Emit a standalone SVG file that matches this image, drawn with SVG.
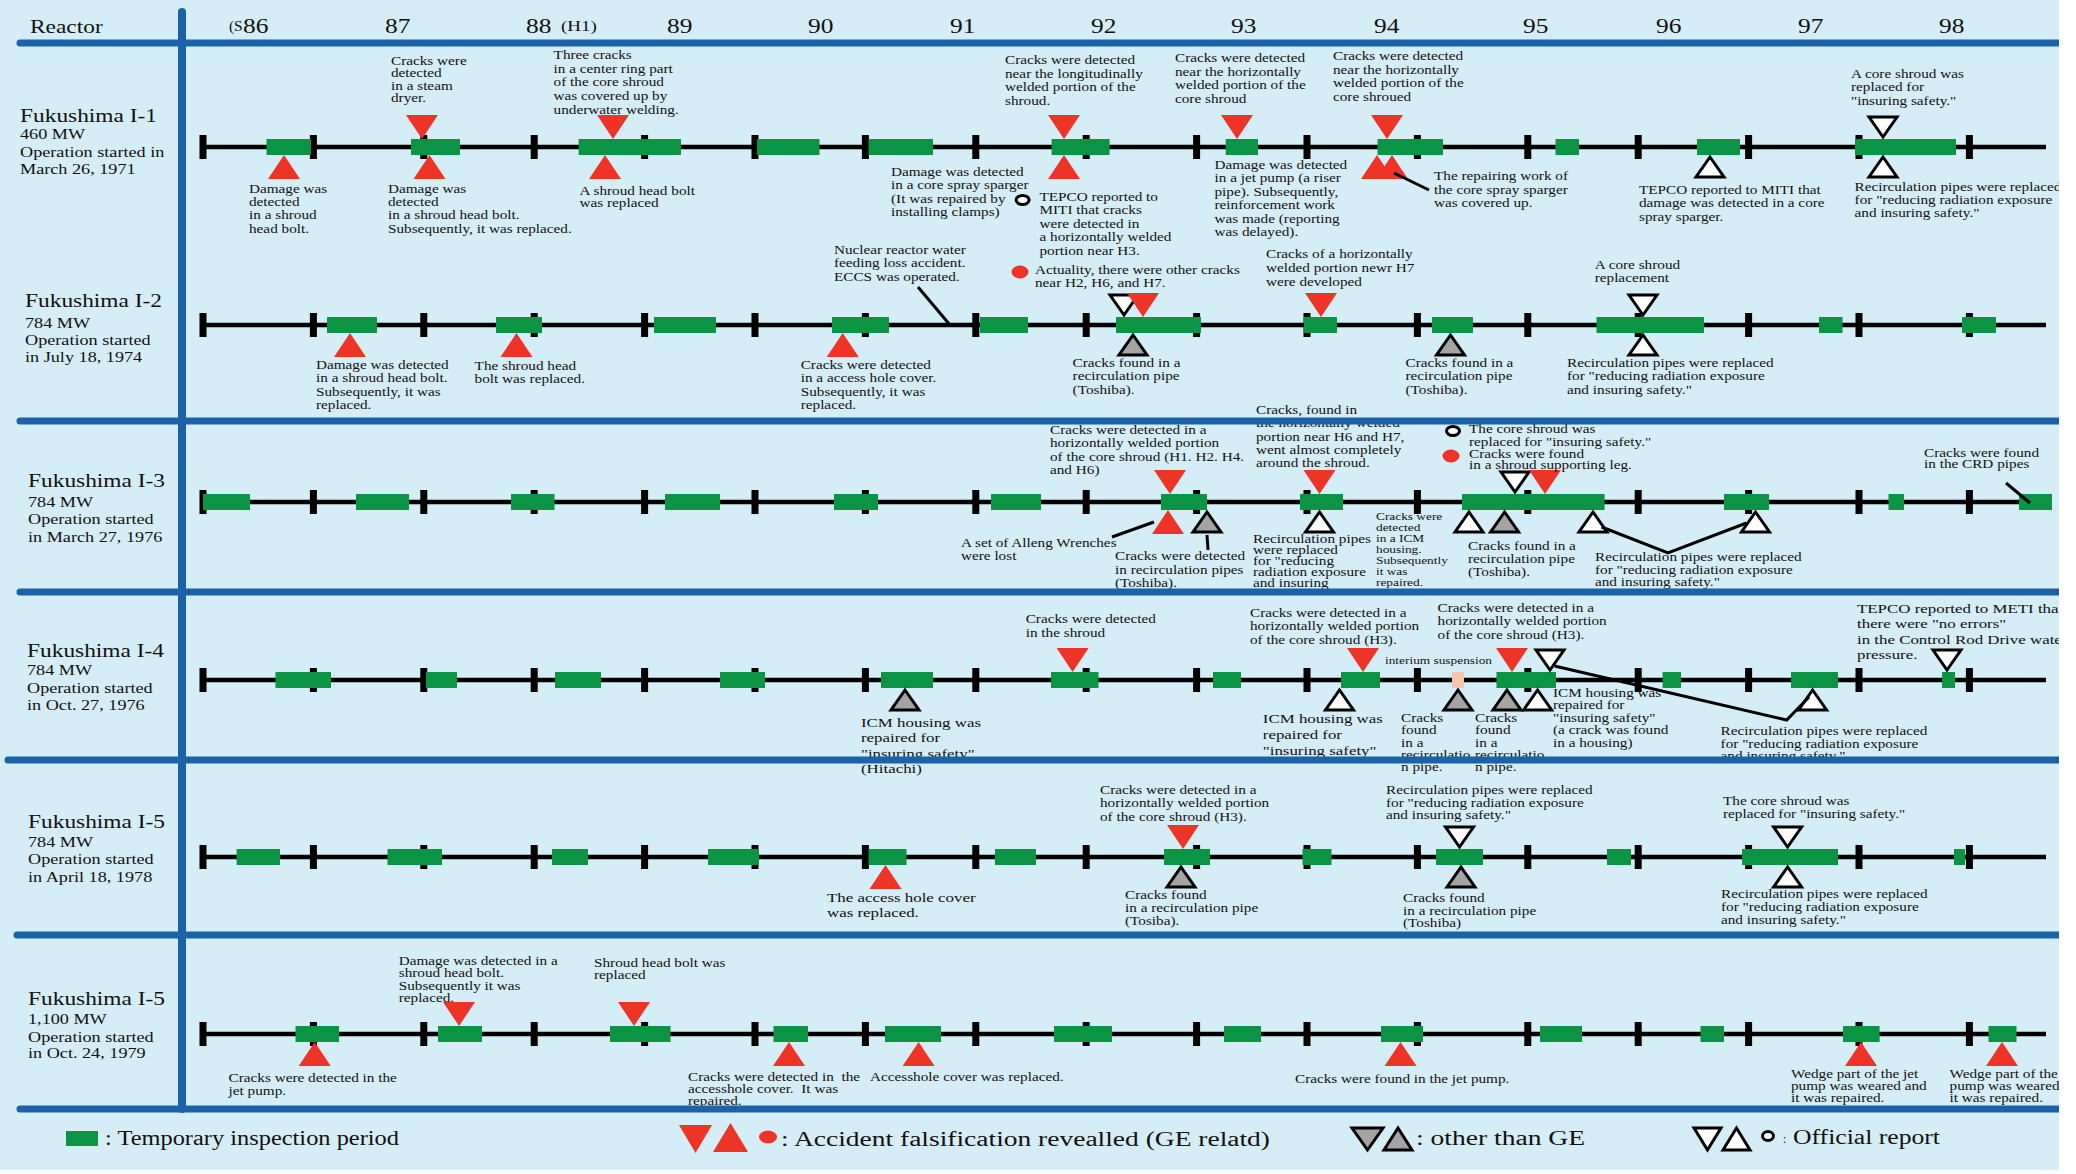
<svg xmlns="http://www.w3.org/2000/svg" xmlns:xlink="http://www.w3.org/1999/xlink" width="2076" height="1174" viewBox="0 0 2076 1174">
<style>
.bl{stroke:#1b62a9;stroke-width:7;stroke-linecap:round;fill:none}
.tl{stroke:#000;stroke-width:4.5;fill:none}
.tk{stroke:#000;stroke-width:7;fill:none}
.g{fill:#0b9444}
.r{fill:#ee3426}
.gy{fill:#a4a4a4;stroke:#000;stroke-width:3}
.o{fill:#fff;stroke:#000;stroke-width:3}
.ld{stroke:#000;stroke-width:3;fill:none}
text{font-family:"Liberation Serif","Times New Roman",serif;fill:#111}
.t{font-size:12px}
.tb{font-size:13.3px}
.ts{font-size:10.5px}
.n{font-size:18px}
.s{font-size:14px}
.y{font-size:20px}
.lg{font-size:20px}
</style>
<defs>
<path id="rd" d="M-16 -32H16L0 -8Z"/>
<path id="ru" d="M-16 32H16L0 8Z"/>
<path id="od" d="M-14 -30H14L0 -10Z"/>
<path id="ou" d="M-14 30H14L0 10Z"/>
<path id="ticks" class="tk" d="M203 -12v24m110.4 -24v24m110.4 -24v24m110.4 -24v24m110.4 -24v24m110.4 -24v24m110.4 -24v24m110.4 -24v24m110.4 -24v24m110.4 -24v24m110.4 -24v24m110.4 -24v24m110.4 -24v24m110.4 -24v24m110.4 -24v24m110.4 -24v24m110.4 -24v24"/>
</defs>
<rect x="0" y="0" width="2076" height="1174" fill="#fff"/>
<rect x="0" y="0" width="2059" height="1170" fill="#d5edf6"/>

<g id="header">
<text class="n" transform="translate(30 33) scale(1.3 1)">Reactor</text>
<text style="font-size:14px" transform="translate(229 31) scale(1.1 1)">(S</text>
<text class="y" transform="translate(243 33) scale(1.27 1)">86</text>
<text class="y" transform="translate(385 33) scale(1.27 1)">87</text>
<text class="y" transform="translate(526 33) scale(1.27 1)">88</text>
<text style="font-size:15px" transform="translate(561 31) scale(1.27 1)">(H1)</text>
<text class="y" transform="translate(667 33) scale(1.27 1)">89</text>
<text class="y" transform="translate(808 33) scale(1.27 1)">90</text>
<text class="y" transform="translate(950 33) scale(1.27 1)">91</text>
<text class="y" transform="translate(1091 33) scale(1.27 1)">92</text>
<text class="y" transform="translate(1231 33) scale(1.27 1)">93</text>
<text class="y" transform="translate(1374 33) scale(1.27 1)">94</text>
<text class="y" transform="translate(1523 33) scale(1.27 1)">95</text>
<text class="y" transform="translate(1656 33) scale(1.27 1)">96</text>
<text class="y" transform="translate(1798 33) scale(1.27 1)">97</text>
<text class="y" transform="translate(1939 33) scale(1.27 1)">98</text>
</g>

<!-- Row 1 -->
<g id="reactor-I-1">
<text transform="translate(20 122) scale(1.3 1)"><tspan class="n" x="0">Fukushima I-1</tspan><tspan class="s" x="0" dy="17">460 MW</tspan><tspan class="s" x="0" dy="18">Operation started in</tspan><tspan class="s" x="0" dy="17">March 26, 1971</tspan></text>
<path class="tl" d="M203 147H2046"/>
<use href="#ticks" y="147"/>
<g class="g" transform="translate(0 139)">
<rect x="266.5" width="44.5" height="16"/><rect x="411" width="49" height="16"/><rect x="578.6" width="102.4" height="16"/><rect x="757" width="62.5" height="16"/><rect x="868.6" width="64.4" height="16"/><rect x="1051.6" width="58" height="16"/><rect x="1225.7" width="32.3" height="16"/><rect x="1377.5" width="65.5" height="16"/><rect x="1555.5" width="23.5" height="16"/><rect x="1697" width="43" height="16"/><rect x="1855" width="101" height="16"/>
</g>
<g class="r">
<use href="#rd" x="422" y="147"/><use href="#rd" x="613" y="147"/><use href="#rd" x="1064" y="147"/><use href="#rd" x="1237" y="147"/><use href="#rd" x="1387" y="147"/>
<use href="#ru" x="284" y="147"/><use href="#ru" x="429.5" y="147"/><use href="#ru" x="605" y="147"/><use href="#ru" x="1064" y="147"/><use href="#ru" x="1377" y="147"/><use href="#ru" x="1392" y="147"/>
<ellipse cx="1020" cy="272" rx="8.5" ry="6.5"/>
</g>
<g class="o">
<use href="#ou" x="1710" y="147"/><use href="#od" x="1883" y="147"/><use href="#ou" x="1883" y="147"/>
<ellipse cx="1022.6" cy="200" rx="6.5" ry="4.5"/>
</g>
<text class="t" transform="translate(249 193) scale(1.27 1)"><tspan x="0">Damage was</tspan><tspan x="0" dy="13.2">detected</tspan><tspan x="0" dy="13.2">in a shroud</tspan><tspan x="0" dy="13.2">head bolt.</tspan></text>
<text class="t" transform="translate(391 65) scale(1.27 1)"><tspan x="0">Cracks were</tspan><tspan x="0" dy="12.5">detected</tspan><tspan x="0" dy="12.5">in a steam</tspan><tspan x="0" dy="12.5">dryer.</tspan></text>
<text class="t" transform="translate(388 193) scale(1.27 1)"><tspan x="0">Damage was</tspan><tspan x="0" dy="13.2">detected</tspan><tspan x="0" dy="13.2">in a shroud head bolt.</tspan><tspan x="0" dy="13.2">Subsequently, it was replaced.</tspan></text>
<text class="t" transform="translate(553.6 59) scale(1.27 1)"><tspan x="0">Three cracks</tspan><tspan x="0" dy="13.7">in a center ring part</tspan><tspan x="0" dy="13.7">of the core shroud</tspan><tspan x="0" dy="13.7">was covered up by</tspan><tspan x="0" dy="13.7">underwater welding.</tspan></text>
<text class="t" transform="translate(579.5 195) scale(1.27 1)"><tspan x="0">A shroud head bolt</tspan><tspan x="0" dy="12.5">was replaced</tspan></text>
<text class="t" transform="translate(891 176) scale(1.27 1)"><tspan x="0">Damage was detected</tspan><tspan x="0" dy="13.3">in a core spray sparger</tspan><tspan x="0" dy="13.3">(It was repaired by</tspan><tspan x="0" dy="13.3">installing clamps)</tspan></text>
<text class="t" transform="translate(1005 64) scale(1.27 1)"><tspan x="0">Cracks were detected</tspan><tspan x="0" dy="13.6">near the longitudinally</tspan><tspan x="0" dy="13.6">welded portion of the</tspan><tspan x="0" dy="13.6">shroud.</tspan></text>
<text class="t" transform="translate(1039.5 201) scale(1.27 1)"><tspan x="0">TEPCO reported to</tspan><tspan x="0" dy="13.5">MITI that cracks</tspan><tspan x="0" dy="13.5">were detected in</tspan><tspan x="0" dy="13.5">a horizontally welded</tspan><tspan x="0" dy="13.5">portion near H3.</tspan></text>
<text class="t" transform="translate(1035 274) scale(1.27 1)"><tspan x="0">Actuality, there were other cracks</tspan><tspan x="0" dy="13.3">near H2, H6, and H7.</tspan></text>
<text class="t" transform="translate(1175 62) scale(1.27 1)"><tspan x="0">Cracks were detected</tspan><tspan x="0" dy="13.6">near the horizontally</tspan><tspan x="0" dy="13.6">welded portion of the</tspan><tspan x="0" dy="13.6">core shroud</tspan></text>
<text class="t" transform="translate(1214.5 169) scale(1.27 1)"><tspan x="0">Damage was detected</tspan><tspan x="0" dy="13.5">in a jet pump (a riser</tspan><tspan x="0" dy="13.5">pipe).  Subsequently,</tspan><tspan x="0" dy="13.5">reinforcement work</tspan><tspan x="0" dy="13.5">was made (reporting</tspan><tspan x="0" dy="13.5">was delayed).</tspan></text>
<text class="t" transform="translate(1333 60) scale(1.27 1)"><tspan x="0">Cracks were detected</tspan><tspan x="0" dy="13.6">near the horizontally</tspan><tspan x="0" dy="13.6">welded portion of the</tspan><tspan x="0" dy="13.6">core shroued</tspan></text>
<text class="t" transform="translate(1434 180) scale(1.27 1)"><tspan x="0">The repairing work of</tspan><tspan x="0" dy="13.6">the core spray sparger</tspan><tspan x="0" dy="13.6">was covered up.</tspan></text>
<text class="t" transform="translate(1639 194) scale(1.27 1)"><tspan x="0">TEPCO reported to MITI that</tspan><tspan x="0" dy="13.4">damage was detected in a core</tspan><tspan x="0" dy="13.4">spray sparger.</tspan></text>
<text class="t" transform="translate(1851 78) scale(1.27 1)"><tspan x="0">A core shroud was</tspan><tspan x="0" dy="13.4">replaced for</tspan><tspan x="0" dy="13.4">"insuring safety."</tspan></text>
<text class="t" transform="translate(1854.6 191) scale(1.27 1)"><tspan x="0">Recirculation pipes were replaced</tspan><tspan x="0" dy="13.2">for "reducing radiation exposure</tspan><tspan x="0" dy="13.2">and insuring safety."</tspan></text>
</g>

<!-- Row 2 -->
<g id="reactor-I-2">
<text transform="translate(25 307) scale(1.3 1)"><tspan class="n" x="0">Fukushima I-2</tspan><tspan class="s" x="0" dy="21">784 MW</tspan><tspan class="s" x="0" dy="17">Operation started</tspan><tspan class="s" x="0" dy="17">in July 18, 1974</tspan></text>
<path class="tl" d="M203 325H2046"/>
<use href="#ticks" y="325"/>
<g class="g" transform="translate(0 317)">
<rect x="327" width="50" height="16"/><rect x="496" width="46" height="16"/><rect x="654" width="62" height="16"/><rect x="832" width="57" height="16"/><rect x="980" width="48" height="16"/><rect x="1116" width="85" height="16"/><rect x="1304" width="33" height="16"/><rect x="1432" width="41" height="16"/><rect x="1596.5" width="107.5" height="16"/><rect x="1819" width="23.5" height="16"/><rect x="1962" width="34" height="16"/>
</g>
<g class="o"><use href="#od" x="1124" y="325"/><use href="#od" x="1643" y="325"/><use href="#ou" x="1643" y="325"/></g>
<g class="gy"><use href="#ou" x="1133" y="325"/><use href="#ou" x="1450.5" y="325"/></g>
<g class="r"><use href="#ru" x="350" y="325"/><use href="#ru" x="516.5" y="325"/><use href="#ru" x="842.7" y="325"/><use href="#rd" x="1143" y="325"/><use href="#rd" x="1321" y="325"/></g>
<text class="t" transform="translate(316 369) scale(1.27 1)"><tspan x="0">Damage was detected</tspan><tspan x="0" dy="13.4">in a shroud head bolt.</tspan><tspan x="0" dy="13.4">Subsequently, it was</tspan><tspan x="0" dy="13.4">replaced.</tspan></text>
<text class="t" transform="translate(474.6 370) scale(1.27 1)"><tspan x="0">The shroud head</tspan><tspan x="0" dy="13">bolt was replaced.</tspan></text>
<text class="t" transform="translate(800.7 369) scale(1.27 1)"><tspan x="0">Cracks were detected</tspan><tspan x="0" dy="13.4">in a access hole cover.</tspan><tspan x="0" dy="13.4">Subsequently, it was</tspan><tspan x="0" dy="13.4">replaced.</tspan></text>
<text class="t" transform="translate(834 254) scale(1.27 1)"><tspan x="0">Nuclear reactor water</tspan><tspan x="0" dy="13.5">feeding loss accident.</tspan><tspan x="0" dy="13.5">ECCS was operated.</tspan></text>
<text class="t" transform="translate(1072.6 367) scale(1.27 1)"><tspan x="0">Cracks found in a</tspan><tspan x="0" dy="13.4">recirculation pipe</tspan><tspan x="0" dy="13.4">(Toshiba).</tspan></text>
<text class="t" transform="translate(1266 258) scale(1.27 1)"><tspan x="0">Cracks of a horizontally</tspan><tspan x="0" dy="14">welded portion newr H7</tspan><tspan x="0" dy="14">were developed</tspan></text>
<text class="t" transform="translate(1405.5 367) scale(1.27 1)"><tspan x="0">Cracks found in a</tspan><tspan x="0" dy="13.4">recirculation pipe</tspan><tspan x="0" dy="13.4">(Toshiba).</tspan></text>
<text class="t" transform="translate(1594.7 269) scale(1.27 1)"><tspan x="0">A core shroud</tspan><tspan x="0" dy="13">replacement</tspan></text>
<text class="t" transform="translate(1567 367) scale(1.27 1)"><tspan x="0">Recirculation pipes were replaced</tspan><tspan x="0" dy="13.4">for "reducing radiation exposure</tspan><tspan x="0" dy="13.4">and insuring safety."</tspan></text>
</g>

<!-- Row 3 -->
<g id="reactor-I-3">
<text transform="translate(28 487) scale(1.3 1)"><tspan class="n" x="0">Fukushima I-3</tspan><tspan class="s" x="0" dy="20">784 MW</tspan><tspan class="s" x="0" dy="17">Operation started</tspan><tspan class="s" x="0" dy="18">in March 27, 1976</tspan></text>
<path class="tl" d="M203 502H2046"/>
<use href="#ticks" y="502"/>
<g class="g" transform="translate(0 494)">
<rect x="203" width="47" height="16"/><rect x="356" width="53" height="16"/><rect x="511" width="43.5" height="16"/><rect x="665" width="55" height="16"/><rect x="834" width="44" height="16"/><rect x="991" width="50" height="16"/><rect x="1161" width="46" height="16"/><rect x="1300" width="43" height="16"/><rect x="1462" width="142.6" height="16"/><rect x="1724" width="45" height="16"/><rect x="1888.5" width="15.5" height="16"/><rect x="2019" width="33" height="16"/>
</g>
<g class="o"><use href="#ou" x="1319.5" y="502"/><use href="#ou" x="1469" y="502"/><use href="#ou" x="1593" y="502"/><use href="#ou" x="1755.5" y="502"/><use href="#od" x="1515" y="502"/>
<ellipse cx="1453" cy="431" rx="6.5" ry="4.5"/></g>
<g class="gy"><use href="#ou" x="1207" y="502"/><use href="#ou" x="1504.6" y="502"/></g>
<g class="r"><use href="#rd" x="1170" y="502"/><use href="#ru" x="1168" y="502"/><use href="#rd" x="1319.5" y="502"/><use href="#rd" x="1545" y="502"/>
<ellipse cx="1451" cy="456" rx="8.5" ry="6.5"/></g>
<text class="t" transform="translate(1050 434) scale(1.27 1)"><tspan x="0">Cracks were detected in a</tspan><tspan x="0" dy="13.4">horizontally welded portion</tspan><tspan x="0" dy="13.4">of the core shroud (H1. H2. H4.</tspan><tspan x="0" dy="13.4">and H6)</tspan></text>
<text class="t" transform="translate(961 547) scale(1.27 1)"><tspan x="0">A set of Alleng Wrenches</tspan><tspan x="0" dy="12.7">were lost</tspan></text>
<text class="t" transform="translate(1115 560) scale(1.27 1)"><tspan x="0">Cracks were detected</tspan><tspan x="0" dy="13.7">in recirculation pipes</tspan><tspan x="0" dy="13.7">(Toshiba).</tspan></text>
<text class="t" transform="translate(1256 414) scale(1.27 1)"><tspan x="0">Cracks, found in</tspan><tspan x="0" dy="13.3">the horizontally welded</tspan><tspan x="0" dy="13.3">portion near H6 and H7,</tspan><tspan x="0" dy="13.3">went almost completely</tspan><tspan x="0" dy="13.3">around the shroud.</tspan></text>
<text class="t" transform="translate(1253 543) scale(1.27 1)"><tspan x="0">Recirculation pipes</tspan><tspan x="0" dy="11">were replaced</tspan><tspan x="0" dy="11">for "reducing</tspan><tspan x="0" dy="11">radiation exposure</tspan><tspan x="0" dy="11">and insuring</tspan></text>
<text class="ts" transform="translate(1376 520) scale(1.27 1)"><tspan x="0">Cracks were</tspan><tspan x="0" dy="11">detected</tspan><tspan x="0" dy="11">in a ICM</tspan><tspan x="0" dy="11">housing.</tspan><tspan x="0" dy="11">Subsequently</tspan><tspan x="0" dy="11">it was</tspan><tspan x="0" dy="11">repaired.</tspan></text>
<text class="t" transform="translate(1469 433) scale(1.27 1)"><tspan x="0">The core shroud was</tspan><tspan x="0" dy="12.7">replaced for "insuring safety."</tspan></text>
<text class="t" transform="translate(1469 458) scale(1.27 1)"><tspan x="0">Cracks were found</tspan><tspan x="0" dy="10.7">in a shroud supporting leg.</tspan></text>
<text class="t" transform="translate(1468 550) scale(1.27 1)"><tspan x="0">Cracks found in a</tspan><tspan x="0" dy="13">recirculation pipe</tspan><tspan x="0" dy="13">(Toshiba).</tspan></text>
<text class="t" transform="translate(1595 561) scale(1.27 1)"><tspan x="0">Recirculation pipes were replaced</tspan><tspan x="0" dy="12.7">for "reducing radiation exposure</tspan><tspan x="0" dy="12.7">and insuring safety."</tspan></text>
<text class="t" transform="translate(1924 457) scale(1.27 1)"><tspan x="0">Cracks were found</tspan><tspan x="0" dy="11">in the CRD pipes</tspan></text>
</g>

<!-- Row 4 -->
<g id="reactor-I-4">
<text transform="translate(27 657) scale(1.3 1)"><tspan class="n" x="0">Fukushima I-4</tspan><tspan class="s" x="0" dy="18">784 MW</tspan><tspan class="s" x="0" dy="18">Operation started</tspan><tspan class="s" x="0" dy="17">in Oct. 27, 1976</tspan></text>
<path class="tl" d="M203 680H2046"/>
<use href="#ticks" y="680"/>
<g class="g" transform="translate(0 672)">
<rect x="275.5" width="55.5" height="16"/><rect x="426" width="31" height="16"/><rect x="555" width="46" height="16"/><rect x="720" width="45" height="16"/><rect x="881" width="52" height="16"/><rect x="1051" width="47.5" height="16"/><rect x="1213" width="28" height="16"/><rect x="1341" width="39" height="16"/><rect x="1496.5" width="59.5" height="16"/><rect x="1662.6" width="18.4" height="16"/><rect x="1791" width="47" height="16"/><rect x="1942" width="13" height="16"/>
</g>
<rect x="1452" y="672" width="12" height="16" fill="#f6c6af"/>
<g class="gy"><use href="#ou" x="905" y="680"/><use href="#ou" x="1458" y="680"/><use href="#ou" x="1507" y="680"/></g>
<g class="o"><use href="#ou" x="1339.5" y="680"/><use href="#ou" x="1537.6" y="680"/><use href="#ou" x="1812.6" y="680"/><use href="#od" x="1550" y="680"/><use href="#od" x="1947" y="680"/></g>
<g class="r"><use href="#rd" x="1072.6" y="680"/><use href="#rd" x="1363" y="680"/><use href="#rd" x="1512" y="680"/></g>
<text class="tb" transform="translate(861 727) scale(1.27 1)"><tspan x="0">ICM housing was</tspan><tspan x="0" dy="15.5">repaired for</tspan><tspan x="0" dy="15.5">"insuring safety"</tspan><tspan x="0" dy="15.5">(Hitachi)</tspan></text>
<text class="t" transform="translate(1025.7 623) scale(1.27 1)"><tspan x="0">Cracks were detected</tspan><tspan x="0" dy="14">in the shroud</tspan></text>
<text class="tb" transform="translate(1262.8 723) scale(1.27 1)"><tspan x="0">ICM housing was</tspan><tspan x="0" dy="16">repaired for</tspan><tspan x="0" dy="16">"insuring safety"</tspan></text>
<text class="t" transform="translate(1250 617) scale(1.27 1)"><tspan x="0">Cracks were detected in a</tspan><tspan x="0" dy="13.3">horizontally welded portion</tspan><tspan x="0" dy="13.3">of the core shroud (H3).</tspan></text>
<text class="ts" transform="translate(1385 664) scale(1.27 1)">interium suspension</text>
<text class="t" transform="translate(1437.6 612) scale(1.27 1)"><tspan x="0">Cracks were detected in a</tspan><tspan x="0" dy="13.3">horizontally welded portion</tspan><tspan x="0" dy="13.3">of the core shroud (H3).</tspan></text>
<text class="t" transform="translate(1401 722) scale(1.27 1)"><tspan x="0">Cracks</tspan><tspan x="0" dy="12.3">found</tspan><tspan x="0" dy="12.3">in a</tspan><tspan x="0" dy="12.3">recirculatio</tspan><tspan x="0" dy="12.3">n pipe.</tspan></text>
<text class="t" transform="translate(1475 722) scale(1.27 1)"><tspan x="0">Cracks</tspan><tspan x="0" dy="12.3">found</tspan><tspan x="0" dy="12.3">in a</tspan><tspan x="0" dy="12.3">recirculatio</tspan><tspan x="0" dy="12.3">n pipe.</tspan></text>
<text class="t" transform="translate(1553 697) scale(1.27 1)"><tspan x="0">ICM housing was</tspan><tspan x="0" dy="12.5">repaired for</tspan><tspan x="0" dy="12.5">"insuring safety"</tspan><tspan x="0" dy="12.5">(a crack was found</tspan><tspan x="0" dy="12.5">in a housing)</tspan></text>
<text class="t" transform="translate(1720.6 735) scale(1.27 1)"><tspan x="0">Recirculation pipes were replaced</tspan><tspan x="0" dy="12.7">for "reducing radiation exposure</tspan><tspan x="0" dy="12.7">and insuring safety."</tspan></text>
<text class="tb" transform="translate(1857 613) scale(1.27 1)"><tspan x="0">TEPCO reported to METI that</tspan><tspan x="0" dy="15.5">there were "no errors"</tspan><tspan x="0" dy="15.5">in the Control Rod Drive water</tspan><tspan x="0" dy="15.5">pressure.</tspan></text>
</g>

<!-- Row 5 -->
<g id="reactor-I-5">
<text transform="translate(28 828) scale(1.3 1)"><tspan class="n" x="0">Fukushima I-5</tspan><tspan class="s" x="0" dy="19">784 MW</tspan><tspan class="s" x="0" dy="17">Operation started</tspan><tspan class="s" x="0" dy="18">in April 18, 1978</tspan></text>
<path class="tl" d="M203 857H2046"/>
<use href="#ticks" y="857"/>
<g class="g" transform="translate(0 849)">
<rect x="236.6" width="43.4" height="16"/><rect x="387.5" width="54.5" height="16"/><rect x="552" width="36" height="16"/><rect x="708" width="51" height="16"/><rect x="868.6" width="37.9" height="16"/><rect x="995" width="41" height="16"/><rect x="1164" width="46" height="16"/><rect x="1302.5" width="29" height="16"/><rect x="1436" width="47" height="16"/><rect x="1607" width="24" height="16"/><rect x="1742" width="96" height="16"/><rect x="1954" width="11" height="16"/>
</g>
<g class="gy"><use href="#ou" x="1181" y="857"/><use href="#ou" x="1461" y="857"/></g>
<g class="o"><use href="#od" x="1459.5" y="857"/><use href="#od" x="1787.6" y="857"/><use href="#ou" x="1787.6" y="857"/></g>
<g class="r"><use href="#ru" x="885.5" y="857"/><use href="#rd" x="1183" y="857"/></g>
<text class="tb" transform="translate(827 902) scale(1.27 1)"><tspan x="0">The access hole cover</tspan><tspan x="0" dy="15">was replaced.</tspan></text>
<text class="t" transform="translate(1100 794) scale(1.27 1)"><tspan x="0">Cracks were detected in a</tspan><tspan x="0" dy="13.4">horizontally welded portion</tspan><tspan x="0" dy="13.4">of the core shroud (H3).</tspan></text>
<text class="t" transform="translate(1125 899) scale(1.27 1)"><tspan x="0">Cracks found</tspan><tspan x="0" dy="13">in a recirculation pipe</tspan><tspan x="0" dy="13">(Tosiba).</tspan></text>
<text class="t" transform="translate(1386 794) scale(1.27 1)"><tspan x="0">Recirculation pipes were replaced</tspan><tspan x="0" dy="12.7">for "reducing radiation exposure</tspan><tspan x="0" dy="12.7">and insuring safety."</tspan></text>
<text class="t" transform="translate(1403 902) scale(1.27 1)"><tspan x="0">Cracks found</tspan><tspan x="0" dy="12.7">in a recirculation pipe</tspan><tspan x="0" dy="12.7">(Toshiba)</tspan></text>
<text class="t" transform="translate(1723 805) scale(1.27 1)"><tspan x="0">The core shroud was</tspan><tspan x="0" dy="12.7">replaced for "insuring safety."</tspan></text>
<text class="t" transform="translate(1721 898) scale(1.27 1)"><tspan x="0">Recirculation pipes were replaced</tspan><tspan x="0" dy="13">for "reducing radiation exposure</tspan><tspan x="0" dy="13">and insuring safety."</tspan></text>
</g>

<!-- Row 6 -->
<g id="reactor-I-5b">
<text transform="translate(28 1005) scale(1.3 1)"><tspan class="n" x="0">Fukushima I-5</tspan><tspan class="s" x="0" dy="19">1,100 MW</tspan><tspan class="s" x="0" dy="18">Operation started</tspan><tspan class="s" x="0" dy="16">in Oct. 24, 1979</tspan></text>
<path class="tl" d="M203 1034H2046"/>
<use href="#ticks" y="1034"/>
<g class="g" transform="translate(0 1026)">
<rect x="295.5" width="43.5" height="16"/><rect x="438" width="44" height="16"/><rect x="610" width="60.5" height="16"/><rect x="773.5" width="34.5" height="16"/><rect x="885" width="56" height="16"/><rect x="1054" width="58" height="16"/><rect x="1224" width="37" height="16"/><rect x="1381" width="42" height="16"/><rect x="1540" width="42" height="16"/><rect x="1700.5" width="23.5" height="16"/><rect x="1843" width="36.6" height="16"/><rect x="1988.5" width="28" height="16"/>
</g>
<g class="r"><use href="#ru" x="314.7" y="1034"/><use href="#ru" x="789" y="1034"/><use href="#ru" x="918.6" y="1034"/><use href="#ru" x="1400.5" y="1034"/><use href="#ru" x="1861" y="1034"/><use href="#ru" x="2002" y="1034"/><use href="#rd" x="459" y="1034"/><use href="#rd" x="634" y="1034"/></g>
<text class="t" transform="translate(228.6 1082) scale(1.27 1)"><tspan x="0">Cracks were detected in the</tspan><tspan x="0" dy="13.3">jet pump.</tspan></text>
<text class="t" transform="translate(398.7 965) scale(1.27 1)"><tspan x="0">Damage was detected in a</tspan><tspan x="0" dy="12.4">shroud head bolt.</tspan><tspan x="0" dy="12.4">Subsequently it was</tspan><tspan x="0" dy="12.4">replaced.</tspan></text>
<text class="t" transform="translate(594 967) scale(1.27 1)"><tspan x="0">Shroud head bolt was</tspan><tspan x="0" dy="11.7">replaced</tspan></text>
<text class="t" transform="translate(688 1081) scale(1.27 1)" xml:space="preserve"><tspan x="0">Cracks were detected in  the</tspan><tspan x="0" dy="12">accesshole cover.  It was</tspan><tspan x="0" dy="12">repaired.</tspan></text>
<text class="t" transform="translate(870 1081) scale(1.27 1)">Accesshole cover was replaced.</text>
<text class="t" transform="translate(1295 1083) scale(1.27 1)">Cracks were found in the jet pump.</text>
<text class="t" transform="translate(1791 1078) scale(1.27 1)"><tspan x="0">Wedge part of the jet</tspan><tspan x="0" dy="12">pump was weared and</tspan><tspan x="0" dy="12">it was repaired.</tspan></text>
<text class="t" transform="translate(1949.6 1078) scale(1.27 1)"><tspan x="0">Wedge part of the jet</tspan><tspan x="0" dy="12">pump was weared and</tspan><tspan x="0" dy="12">it was repaired.</tspan></text>
</g>

<g id="connectors" class="ld">
<path d="M1394 173L1429 190"/>
<path d="M918 287L950 325"/>
<path d="M1112 537L1154 522"/>
<path d="M1207 535L1208 550"/>
<path d="M1601.5 527L1668 553L1746.5 523"/>
<path d="M2006 483L2030 503"/>
<path d="M1554.6 666L1786.7 720L1809 697"/>
</g>

<g id="grid">
<path class="bl" d="M182 12V1109" style="stroke-width:8"/>
<path class="bl" d="M20 43H2059"/>
<path class="bl" d="M20 421H2059"/>
<path class="bl" d="M20 592H2059"/>
<path class="bl" d="M8 760H2059"/>
<path class="bl" d="M17 935H2059"/>
<path class="bl" d="M20 1109H2059"/>
</g>

<g id="legend">
<rect class="g" x="66" y="1131" width="32" height="15"/>
<text class="lg" x="105" y="1145" textLength="294" lengthAdjust="spacingAndGlyphs">: Temporary inspection period</text>
<path class="r" d="M679 1125H712L695.5 1153Z"/>
<path class="r" d="M713 1152H748L730.5 1123Z"/>
<ellipse class="r" cx="768" cy="1137" rx="9" ry="6.5"/>
<text class="lg" x="781" y="1146" textLength="489" lengthAdjust="spacingAndGlyphs">: Accident falsification revealled (GE relatd)</text>
<path class="gy" d="M1352 1128H1383L1367.5 1150Z"/>
<path class="gy" d="M1384 1150H1412L1398 1128Z"/>
<text class="lg" x="1416" y="1145" textLength="169" lengthAdjust="spacingAndGlyphs">: other than GE</text>
<path class="o" d="M1694 1128H1721L1707.5 1150Z"/>
<path class="o" d="M1723 1150H1750L1736.5 1128Z"/>
<ellipse class="o" cx="1768" cy="1136" rx="5.5" ry="4.5"/>
<text style="font-size:12px" x="1783" y="1143">:</text>
<text class="lg" x="1793" y="1144" textLength="147" lengthAdjust="spacingAndGlyphs">Official report</text>
</g>

<rect x="2059" y="0" width="17" height="1174" fill="#fff"/>
</svg>
